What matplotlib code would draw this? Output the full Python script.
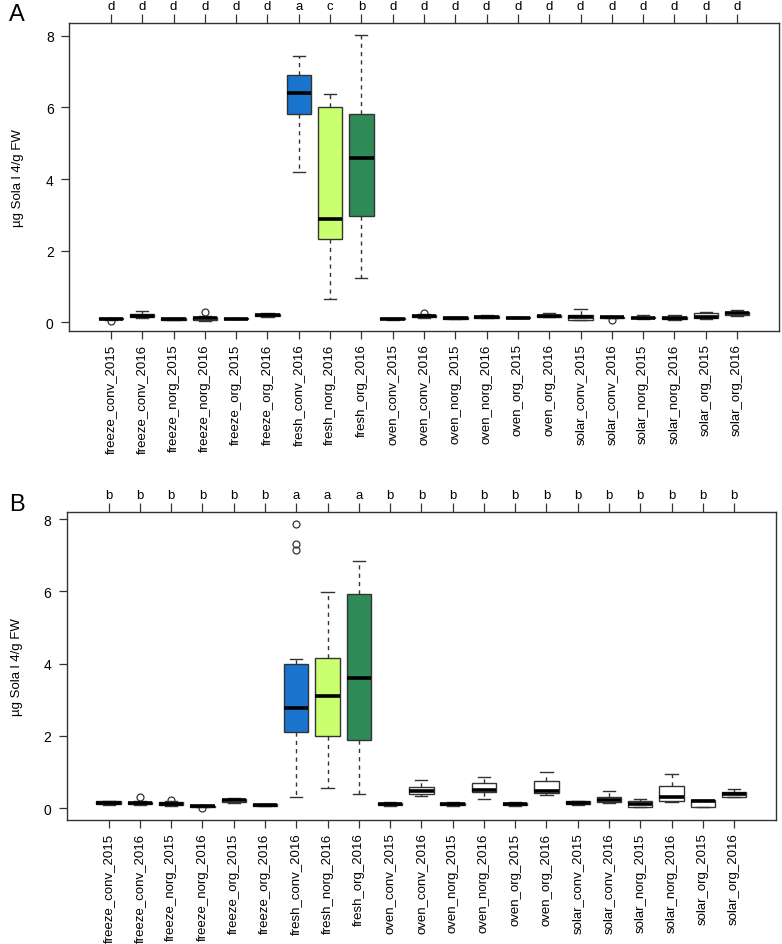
import matplotlib
matplotlib.use("Agg")
import matplotlib.pyplot as plt

plt.rcParams['font.family'] = ['Liberation Sans', 'DejaVu Sans']

categories = ["freeze_conv_2015", "freeze_conv_2016", "freeze_norg_2015", "freeze_norg_2016",
              "freeze_org_2015", "freeze_org_2016", "fresh_conv_2016", "fresh_norg_2016",
              "fresh_org_2016", "oven_conv_2015", "oven_conv_2016", "oven_norg_2015",
              "oven_norg_2016", "oven_org_2015", "oven_org_2016", "solar_conv_2015",
              "solar_conv_2016", "solar_norg_2015", "solar_norg_2016", "solar_org_2015",
              "solar_org_2016"]

# Panel A statistics
a_letters = ["d"] * 6 + ["a", "c", "b"] + ["d"] * 12
a_whislo = [0.08, 0.12, 0.06, 0.05, 0.09, 0.15, 4.20, 0.64, 1.25, 0.08, 0.12, 0.09, 0.11, 0.11, 0.14, 0.06, 0.11, 0.10, 0.06, 0.09, 0.18]
a_q1 = [0.09, 0.14, 0.07, 0.08, 0.10, 0.17, 5.82, 2.34, 2.96, 0.09, 0.15, 0.10, 0.13, 0.12, 0.16, 0.08, 0.12, 0.11, 0.09, 0.11, 0.21]
a_med = [0.10, 0.18, 0.09, 0.11, 0.10, 0.20, 6.41, 2.90, 4.59, 0.10, 0.18, 0.12, 0.15, 0.13, 0.19, 0.14, 0.14, 0.13, 0.12, 0.15, 0.26]
a_q3 = [0.11, 0.23, 0.11, 0.14, 0.11, 0.23, 6.91, 6.00, 5.83, 0.11, 0.21, 0.14, 0.18, 0.14, 0.22, 0.22, 0.16, 0.16, 0.16, 0.26, 0.29]
a_whishi = [0.12, 0.32, 0.12, 0.18, 0.12, 0.25, 7.43, 6.37, 8.02, 0.12, 0.24, 0.15, 0.21, 0.15, 0.25, 0.36, 0.17, 0.20, 0.20, 0.30, 0.35]
a_fliers = [[0.04], [], [], [0.28], [], [], [], [], [], [], [0.27], [], [], [], [], [], [0.07], [], [], [], []]

# Panel B statistics
b_letters = ["b"] * 6 + ["a", "a", "a"] + ["b"] * 12
b_whislo = [0.09, 0.08, 0.06, 0.02, 0.15, 0.05, 0.30, 0.57, 0.40, 0.05, 0.34, 0.06, 0.25, 0.07, 0.35, 0.09, 0.14, 0.03, 0.16, 0.04, 0.30]
b_q1 = [0.11, 0.10, 0.08, 0.03, 0.18, 0.06, 2.11, 2.01, 1.88, 0.08, 0.40, 0.08, 0.44, 0.09, 0.41, 0.11, 0.17, 0.04, 0.21, 0.04, 0.32]
b_med = [0.15, 0.14, 0.12, 0.05, 0.22, 0.08, 2.78, 3.11, 3.60, 0.10, 0.48, 0.11, 0.49, 0.12, 0.46, 0.15, 0.22, 0.10, 0.31, 0.19, 0.39]
b_q3 = [0.19, 0.18, 0.16, 0.07, 0.26, 0.10, 3.98, 4.15, 5.93, 0.13, 0.58, 0.14, 0.69, 0.15, 0.75, 0.19, 0.31, 0.19, 0.61, 0.22, 0.44]
b_whishi = [0.21, 0.20, 0.20, 0.08, 0.29, 0.11, 4.12, 5.98, 6.84, 0.16, 0.77, 0.16, 0.85, 0.16, 0.99, 0.21, 0.47, 0.26, 0.95, 0.22, 0.53]
b_fliers = [[], [0.30], [0.23], [0.00], [], [], [7.16, 7.31, 7.86], [], [], [], [], [], [], [], [], [], [], [], [], [], []]

fill_colors = {"fresh_conv_2016": "#1874CD", "fresh_norg_2016": "#CAFF70", "fresh_org_2016": "#2E8B57"}

yticks = [0, 2, 4, 6, 8]
ylabel = "µg Sola l 4/g FW"

fig = plt.figure(figsize=(7.82, 9.45), dpi=100)


def panel(rect, letters, wlo, q1, med, q3, whi, fliers, ylim, label_x):
    ax = fig.add_axes(rect)
    stats = []
    for i, c in enumerate(categories):
        stats.append(dict(label=c, whislo=wlo[i], q1=q1[i], med=med[i], q3=q3[i],
                          whishi=whi[i], fliers=fliers[i]))
    pos = list(range(1, len(categories) + 1))
    bp = ax.bxp(stats, positions=pos, widths=0.78, patch_artist=True, showfliers=True,
                boxprops=dict(edgecolor="#333333", linewidth=1.0),
                medianprops=dict(color="black", linewidth=2.6, solid_capstyle="butt"),
                whiskerprops=dict(color="#333333", linewidth=1.0, linestyle=(0, (3, 3))),
                capprops=dict(color="#333333", linewidth=1.0),
                capwidths=0.39,
                flierprops=dict(marker="o", markerfacecolor="none", markeredgecolor="#333333",
                                markersize=5, markeredgewidth=0.9))
    for patch, c in zip(bp["boxes"], categories):
        patch.set_facecolor(fill_colors.get(c, "white"))
    ax.set_xlim(-0.34, 22.34)
    ax.set_ylim(*ylim)
    ax.set_xticks(pos)
    ax.set_xticklabels(categories, rotation=90, fontsize=9.5)
    ax.set_yticks(yticks)
    ax.set_yticklabels([str(v) for v in yticks], fontsize=10)
    ax.tick_params(axis="x", length=6, width=0.9, pad=3, color="#333333")
    ax.tick_params(axis="y", length=6, width=0.9, pad=5, color="#333333")
    # top axis with significance letters
    top = ax.secondary_xaxis("top")
    top.set_xticks(pos)
    top.set_xticklabels(letters, fontsize=9.5)
    top.tick_params(length=6.5, width=0.9, pad=1.5, color="#333333")
    top.spines["top"].set_visible(False)
    for s in ax.spines.values():
        s.set_linewidth(1.0)
        s.set_color("#333333")
    ax.set_ylabel(ylabel, fontsize=9.5)
    ax.yaxis.set_label_coords(label_x, 0.5)
    return ax


axA = panel([0.0882, 0.6487, 0.908, 0.3256], a_letters, a_whislo, a_q1, a_med, a_q3,
            a_whishi, a_fliers, (-0.24, 8.35), -0.064)
axB = panel([0.0853, 0.1312, 0.907, 0.3263], b_letters, b_whislo, b_q1, b_med, b_q3,
            b_whishi, b_fliers, (-0.33, 8.21), -0.061)

fig.text(17 / 782, 1 - 15 / 945, "A", fontsize=17, ha="center", va="center")
fig.text(17 / 782, 1 - 505 / 945, "B", fontsize=17, ha="center", va="center")

fig.savefig("out.png", dpi=100)
